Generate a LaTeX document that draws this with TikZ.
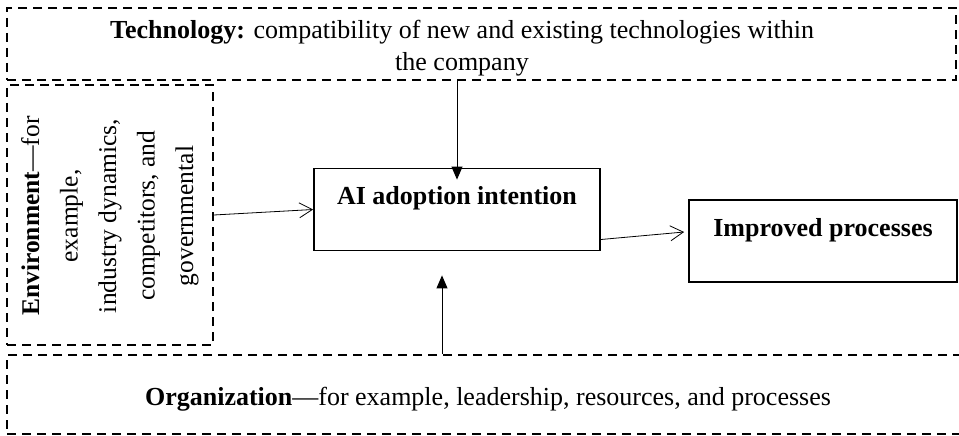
\documentclass[tikz,border=0pt]{standalone}
\usepackage{fontspec}
\setmainfont{Liberation Serif}
\usetikzlibrary{arrows.meta, calc}

\begin{document}
\begin{tikzpicture}[
    x=1pt, y=-1pt,
    context/.style={draw, line width=1.8pt, dash pattern=on 9pt off 6pt, inner sep=0pt},
    label/.style={font=\fontsize{26}{32}\selectfont, align=center, inner sep=0pt},
    box/.style={draw, line width=1.8pt, inner sep=0pt, text height=36pt, text depth=46pt, font=\fontsize{26}{30}\selectfont\bfseries},
    influence/.style={-{Triangle[length=13pt, width=11pt]}, line width=1pt},
    flow/.style={-{Straight Barb[length=13pt, width=15pt]}, line width=0.8pt}
]
\useasboundingbox (0,0) rectangle (959,436);

% Contesto
\node[context, minimum width=949, minimum height=72] (tech) at (481.5,44) {};
\node[label] (techtext) at (462,48) {\textbf{Technology:} compatibility of new and existing technologies within\\the company};

\node[context, minimum width=206, minimum height=260] (env) at (110,215) {};
\node[label, rotate=90, font=\fontsize{25.5}{38.5}\selectfont] (envtext) at (110,216) {\textbf{Environment}---for\\example,\\industry dynamics,\\competitors, and\\governmental};

\node[context, minimum width=993, minimum height=79] (org) at (503.5,394.5) {};
\node[label] (orgtext) at (488,399) {\textbf{Organization}---for example, leadership, resources, and processes};

% Riquadri centrali
\node[box, minimum width=286] (ai) at (457,209.5) {AI adoption intention};
\node[box, minimum width=268] (imp) at (823,241) {Improved processes};

% Frecce
\draw[influence] (tech.south -| ai.north) -- ([yshift=-12pt]ai.north);
\draw[influence] ($(org.north -| ai.south)+(-15,0)$) -- ($(ai.south)+(-15,24)$);
\draw[flow] (env.east) -- (ai.west);
\draw[flow] ($(ai.east)+(0,30)$) -- ($(imp.west)+(-4,-9)$);

\end{tikzpicture}
\end{document}
